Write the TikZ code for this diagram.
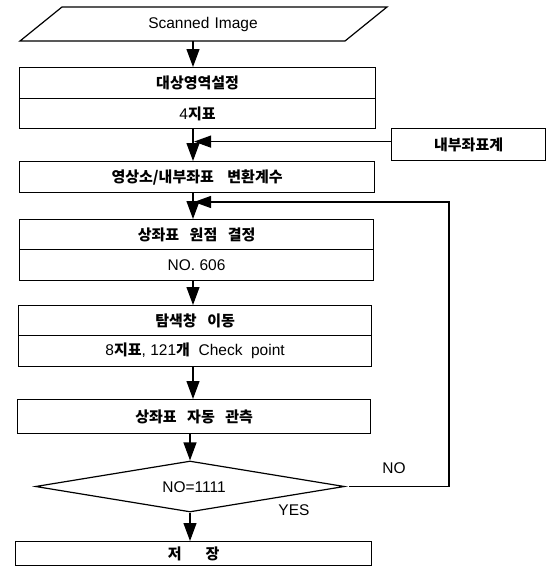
\documentclass[tikz,border=0pt]{standalone}
\usepackage{fontspec}
\setmainfont{Liberation Sans}
\newfontfamily\kr{Noto Sans CJK KR}
\newcommand{\K}[1]{{\kr\bfseries\fontsize{15}{17}\selectfont #1}}
\usetikzlibrary{arrows.meta,shapes.geometric}
\begin{document}
\begin{tikzpicture}[x=1pt,y=-1pt,
  ln/.style={line width=1.2pt},
  arr/.style={ln,-{Triangle[width=13pt,length=18pt]}},
  larr/.style={ln,-{Triangle[width=12pt,length=17pt]}},
  boxnode/.style={draw,ln,rectangle,inner sep=0pt,anchor=north west,
    font=\fontsize{15.5}{17}\selectfont},
  lab/.style={font=\fontsize{15.5}{17}\selectfont,inner sep=0pt}
]
\useasboundingbox (0,0) rectangle (546,568);
\coordinate (ax) at (193,0);

% scanned image (parallelogram)
\draw[ln] (62,7) -- (387,7) -- (345,41) -- (20,41) -- cycle;
\node[lab,minimum height=34pt] (scan) at (203,24) {Scanned\,\,Image};

\node[boxnode,minimum width=356pt,minimum height=31pt] (b1a) at (19,67) {\K{대상영역설정}};
\node[boxnode,minimum width=356pt,minimum height=30pt] (b1b) at (19,98) {4\K{지표}};

\node[boxnode,minimum width=154pt,minimum height=32pt] (inner) at (391,128) {\K{내부좌표계}};

\node[boxnode,minimum width=355pt,minimum height=31pt] (b2) at (19,161) {\K{영상소/내부좌표\hspace{0.9em}변환계수}};

\node[boxnode,minimum width=354pt,minimum height=30pt] (b3a) at (19,219) {\K{상좌표\hspace{0.7em}원점\hspace{0.7em}결정}};
\node[boxnode,minimum width=354pt,minimum height=31pt] (b3b) at (19,249) {NO.\ 606};

\node[boxnode,minimum width=353pt,minimum height=30pt] (b4a) at (18,305) {\K{탐색창\hspace{0.7em}이동}};
\node[boxnode,minimum width=353pt,minimum height=31pt] (b4b) at (18,335) {8\K{지표}, 121\K{개}\ \ Check\ \ point};

\node[boxnode,minimum width=353pt,minimum height=34pt] (b5) at (17,399) {\K{상좌표\hspace{0.7em}자동\hspace{0.7em}관측}};

\node[draw,ln,diamond,minimum width=309pt,minimum height=51pt,inner sep=0pt] (dia) at (190,486.5) {};
\node[lab] (diat) at (194,487) {NO=1111};

\node[boxnode,minimum width=356pt,minimum height=24pt] (b6) at (15,541) {\K{저\hspace{1.6em}장}};

\node[lab] (no) at (394,468) {NO};
\node[lab] (yes) at (294,510) {YES};

\coordinate (loopc) at (449,202);

% connectors
\draw[arr] (scan.south -| ax) -- (b1a.north -| ax);
\draw[arr] (b1b.south -| ax) -- (b2.north -| ax);
\draw[arr] (b2.south -| ax) -- (b3a.north -| ax);
\draw[arr] (b3b.south -| ax) -- (b4a.north -| ax);
\draw[arr] (b4b.south -| ax) -- (b5.north -| ax);
\draw[arr] (b5.south -| dia.north) -- (dia.north);
\draw[arr] (dia.south) -- (b6.north -| dia.south);

\draw[larr] ([yshift=3pt]inner.west) -- ([yshift=3pt,xshift=1pt]inner.west -| ax);
\draw[larr] ([xshift=4pt]dia.east) -| (loopc) -- ([xshift=1pt]loopc -| ax);
\end{tikzpicture}
\end{document}
